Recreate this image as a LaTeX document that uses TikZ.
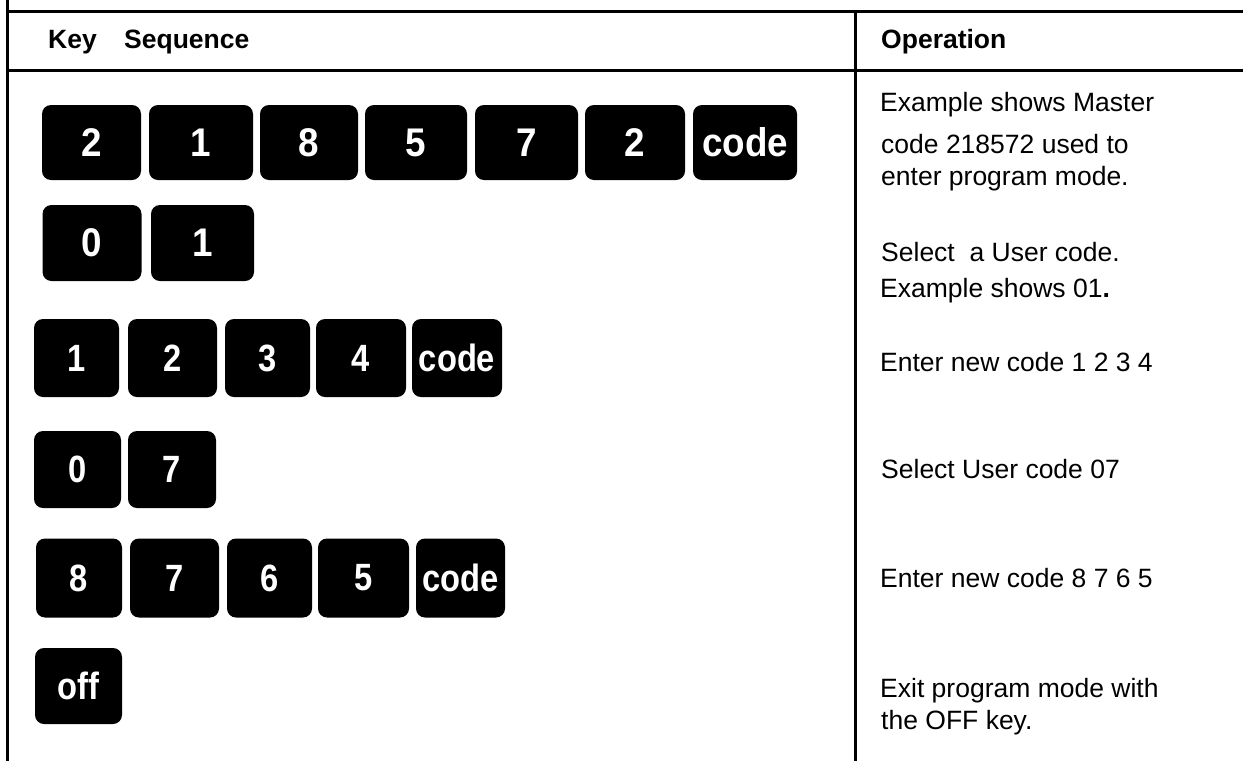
\documentclass[tikz,border=0pt]{standalone}
\usepackage{fontspec}
\setmainfont{Liberation Sans}
\usepackage{graphicx}
\newcommand\kc[1]{\scalebox{0.92}[1]{#1}}
\newcommand\kn[1]{\scalebox{0.86}[1]{#1}}
\begin{document}
\begin{tikzpicture}[x=1pt,y=-1pt,
  rule/.style={line width=3pt},
  keycap/.style={rectangle, fill=black, draw=none, rounded corners=9pt, inner sep=0pt,
    text=white, minimum height=77pt, font=\fontsize{40}{40}\selectfont\bfseries},
  smallkey/.style={keycap, font=\fontsize{38}{38}\selectfont\bfseries},
  optext/.style={anchor=base west, inner sep=0pt, font=\fontsize{26.5}{30}\selectfont},
  headtext/.style={anchor=base west, inner sep=0pt, font=\fontsize{26.5}{30}\selectfont\bfseries}]
\useasboundingbox (0,0) rectangle (1243,761);
\fill[white] (0,0) rectangle (1243,761);
% table rules
\draw[rule] (7.5,0) -- (7.5,761);
\draw[rule] (6,11.5) -- (1243,11.5);
\draw[rule] (6,70.5) -- (1243,70.5);
\draw[rule] (855.5,10) -- (855.5,761);
% header
\node[headtext] (hkey) at (48,48) {Key\hspace{27.4pt}Sequence};
\node[headtext] (hop) at (881,48) {Operation};
% row 1
\node[keycap, minimum width=99pt, minimum height=75pt] (r1a) at (91.5,142.5) {\kc{2}};
\node[keycap, minimum width=104pt, minimum height=75pt] (r1b) at (201,142.5) {\kc{1}};
\node[keycap, minimum width=98pt, minimum height=75pt] (r1c) at (309,142.5) {\kc{8}};
\node[keycap, minimum width=102pt, minimum height=75pt] (r1d) at (416,142.5) {\kc{5}};
\node[keycap, minimum width=103pt, minimum height=75pt] (r1e) at (526.5,142.5) {\kc{7}};
\node[keycap, minimum width=100pt, minimum height=75pt] (r1f) at (635,142.5) {\kc{2}};
\node[keycap, minimum width=104pt, minimum height=75pt] (r1g) at (745,142.5) {\kc{code}};
% row 2
\node[keycap, minimum width=99pt, minimum height=76pt] (r2a) at (92,243) {\kc{0}};
\node[keycap, minimum width=103pt, minimum height=76pt] (r2b) at (202.5,243) {\kc{1}};
% row 3
\node[smallkey, minimum width=85pt, minimum height=78pt] (r3a) at (76.5,358) {\kn{1}};
\node[smallkey, minimum width=89pt, minimum height=78pt] (r3b) at (172.5,358) {\kn{2}};
\node[smallkey, minimum width=85pt, minimum height=78pt] (r3c) at (267.5,358) {\kn{3}};
\node[smallkey, minimum width=90pt, minimum height=78pt] (r3d) at (361,358) {\kn{4}};
\node[smallkey, minimum width=90pt, minimum height=78pt] (r3e) at (457,358) {\kn{code}};
% row 4
\node[smallkey, minimum width=87pt] (r4a) at (77.5,469.5) {\kn{0}};
\node[smallkey, minimum width=88pt] (r4b) at (172,469.5) {\kn{7}};
% row 5
\node[smallkey, minimum width=86pt, minimum height=79pt] (r5a) at (79,578) {\kn{8}};
\node[smallkey, minimum width=89pt, minimum height=79pt] (r5b) at (174.5,578) {\kn{7}};
\node[smallkey, minimum width=85pt, minimum height=79pt] (r5c) at (269.5,578) {\kn{6}};
\node[smallkey, minimum width=91pt, minimum height=79pt] (r5d) at (363.5,578) {\kn{5}};
\node[smallkey, minimum width=89pt, minimum height=79pt] (r5e) at (460.5,578) {\kn{code}};
% row 6
\node[smallkey, minimum width=87pt, minimum height=76pt] (r6a) at (78.5,686) {\kn{off}};
% operation texts
\node[optext] (t1a) at (880,111) {Example shows Master};
\node[optext] (t1b) at (881,153) {code 218572 used to};
\node[optext] (t1c) at (881,185) {enter program mode.};
\node[optext] (t2a) at (881,261) {Select~ a User code.};
\node[optext] (t2b) at (880,297) {Example shows 01\textbf{.}};
\node[optext] (t3) at (880,371) {Enter new code 1 2 3 4};
\node[optext] (t4) at (881,478) {Select User code 07};
\node[optext] (t5) at (880,587) {Enter new code 8 7 6 5};
\node[optext] (t6a) at (880,697) {Exit program mode with};
\node[optext] (t6b) at (881,729) {the OFF key.};
\end{tikzpicture}
\end{document}
